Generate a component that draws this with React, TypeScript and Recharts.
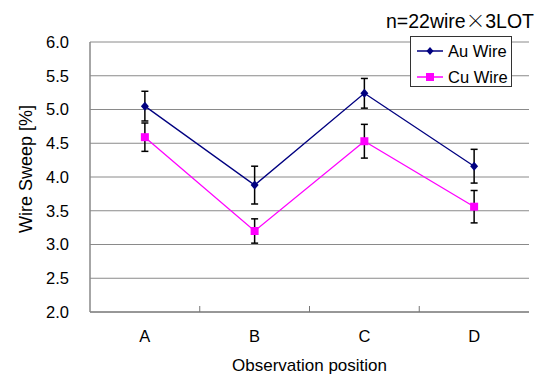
import React from 'react';
import { LineChart, Line, XAxis, YAxis, CartesianGrid, ErrorBar, Legend } from 'recharts';

const categories = ['A', 'B', 'C', 'D'];
const auValues = [5.05, 3.88, 5.24, 4.16];
const auErrors = [0.22, 0.28, 0.22, 0.25];
const cuValues = [4.59, 3.2, 4.53, 3.56];
const cuErrors = [0.21, 0.18, 0.25, 0.24];
const yTicks = [2.0, 2.5, 3.0, 3.5, 4.0, 4.5, 5.0, 5.5, 6.0];
const seriesNames = ['Au Wire', 'Cu Wire'];
const titleParts = ['n=22wire', '×', '3LOT'];
const xTitle = 'Observation position';
const yTitle = 'Wire Sweep [%]';

const AU = '#000080';
const CU = '#FF00FF';
const FONT = "Arial, 'Liberation Sans', sans-serif";

const data = categories.map((c, i) => ({
  cat: c,
  au: auValues[i],
  auErr: auErrors[i],
  cu: cuValues[i],
  cuErr: cuErrors[i],
}));

const X_TICK_MARGIN = 18;

const XTick = (p: any) => {
  const { x, y, payload, index, width, visibleTicksCount } = p;
  const band = width && visibleTicksCount ? Number(width) / Number(visibleTicksCount) : 0;
  const axisY = y - X_TICK_MARGIN;
  return (
    <g>
      <text x={x} y={y} dy="0.71em" textAnchor="middle" fontSize={16.5} fontFamily={FONT} fill="#000">
        {payload.value}
      </text>
      {index > 0 && band > 0 ? (
        <line x1={x - band / 2} x2={x - band / 2} y1={axisY} y2={axisY - 6} stroke="#777" strokeWidth={1} />
      ) : null}
    </g>
  );
};

const DiamondDot = (p: any) => {
  const { cx, cy, index } = p;
  if (cx == null || cy == null) return <g key={`d-${index}`} />;
  return (
    <path
      key={`d-${index}`}
      d={`M${cx},${cy - 4.5}L${cx + 4},${cy}L${cx},${cy + 4.5}L${cx - 4},${cy}Z`}
      fill={AU}
    />
  );
};

const SquareDot = (p: any) => {
  const { cx, cy, index } = p;
  if (cx == null || cy == null) return <g key={`s-${index}`} />;
  return <rect key={`s-${index}`} x={cx - 4} y={cy - 4} width={8} height={8} fill={CU} />;
};

const YLabel = (props: any) => {
  const vb = props.viewBox || {};
  const x = (vb.x || 0) + 26;
  const y = (vb.y || 0) + (vb.height || 0) / 2 - 8;
  return (
    <text
      x={x}
      y={y}
      transform={`rotate(-90, ${x}, ${y})`}
      textAnchor="middle"
      dominantBaseline="central"
      fontSize={18}
      fontFamily={FONT}
      fill="#000"
    >
      {yTitle}
    </text>
  );
};

const LegendIcon = ({ color, kind }: { color: string; kind: string }) => (
  <svg width={30} height={12} style={{ display: 'block' }}>
    <line x1={2} x2={28} y1={6} y2={6} stroke={color} strokeWidth={1.5} />
    {kind === 'diamond' ? (
      <path d="M15,2L18.5,6L15,10L11.5,6Z" fill={color} />
    ) : (
      <rect x={11} y={2} width={8} height={8} fill={color} />
    )}
  </svg>
);

const LegendBox = () => {
  const colors = [AU, CU];
  const kinds = ['diamond', 'square'];
  return (
    <div
      style={{
        width: 102,
        height: 51,
        boxSizing: 'border-box',
        border: '1px solid #333',
        background: '#fff',
        fontFamily: FONT,
        fontSize: 16.5,
        color: '#000',
        paddingTop: 3,
      }}
    >
      {seriesNames.map((n, i) => (
        <div key={n} style={{ display: 'flex', alignItems: 'center', height: 22, marginTop: i === 0 ? 0 : 4 }}>
          <div style={{ marginLeft: 4, marginRight: 3 }}>
            <LegendIcon color={colors[i]} kind={kinds[i]} />
          </div>
          <span style={{ lineHeight: '22px', whiteSpace: 'nowrap' }}>{n}</span>
        </div>
      ))}
    </div>
  );
};

export default function App() {
  return (
    <div style={{ position: 'absolute', left: 0, top: 0, width: 545, height: 377, background: '#fff' }}>
      <LineChart
        width={545}
        height={377}
        data={data}
        margin={{ top: 42, right: 16, bottom: 0, left: 0 }}
        style={{ fontFamily: FONT }}
      >
        <CartesianGrid vertical={false} stroke="#8a8a8a" strokeWidth={1} />
        <XAxis
          dataKey="cat"
          scale="band"
          height={65}
          interval={0}
          axisLine={{ stroke: '#888', strokeWidth: 1.5 }}
          tickLine={false}
          tickSize={0}
          tickMargin={X_TICK_MARGIN}
          tick={<XTick />}
          label={{ value: xTitle, position: 'insideBottom', offset: 6, fill: '#000', fontSize: 17, fontFamily: FONT }}
        />
        <YAxis
          domain={[2, 6]}
          ticks={yTicks}
          width={90}
          interval={0}
          axisLine={{ stroke: '#888', strokeWidth: 1.5 }}
          tickLine={false}
          tickSize={0}
          tickMargin={21}
          tickFormatter={(v: number) => v.toFixed(1)}
          tick={{ fontSize: 16.5, fill: '#000', fontFamily: FONT }}
          label={<YLabel />}
        />
        <YAxis
          yAxisId="r"
          orientation="right"
          domain={[2, 6]}
          width={0}
          tick={false}
          tickLine={false}
          axisLine={{ stroke: '#888', strokeWidth: 1.5 }}
        />
        <Legend
          layout="horizontal"
          verticalAlign="middle"
          align="center"
          wrapperStyle={{ top: 36, left: 410, width: 102, height: 51 }}
          content={() => <LegendBox />}
        />
        <Line
          dataKey="cu"
          name={seriesNames[1]}
          stroke={CU}
          strokeWidth={1.3}
          dot={SquareDot}
          activeDot={false}
          isAnimationActive={false}
        >
          <ErrorBar dataKey="cuErr" width={3.5} stroke="#000" strokeWidth={1.5} direction="y" isAnimationActive={false} />
        </Line>
        <Line
          dataKey="au"
          name={seriesNames[0]}
          stroke={AU}
          strokeWidth={1.3}
          dot={DiamondDot}
          activeDot={false}
          isAnimationActive={false}
        >
          <ErrorBar dataKey="auErr" width={3.5} stroke="#000" strokeWidth={1.5} direction="y" isAnimationActive={false} />
        </Line>
      </LineChart>
      <div
        style={{
          position: 'absolute',
          top: 10,
          right: 11,
          fontFamily: FONT,
          fontSize: 19.5,
          lineHeight: '19px',
          color: '#000',
          whiteSpace: 'nowrap',
        }}
      >
        {titleParts[0]}
        <span style={{ fontFamily: "'Noto Sans CJK JP', sans-serif", fontWeight: 300 }}>{titleParts[1]}</span>
        {titleParts[2]}
      </div>
    </div>
  );
}
